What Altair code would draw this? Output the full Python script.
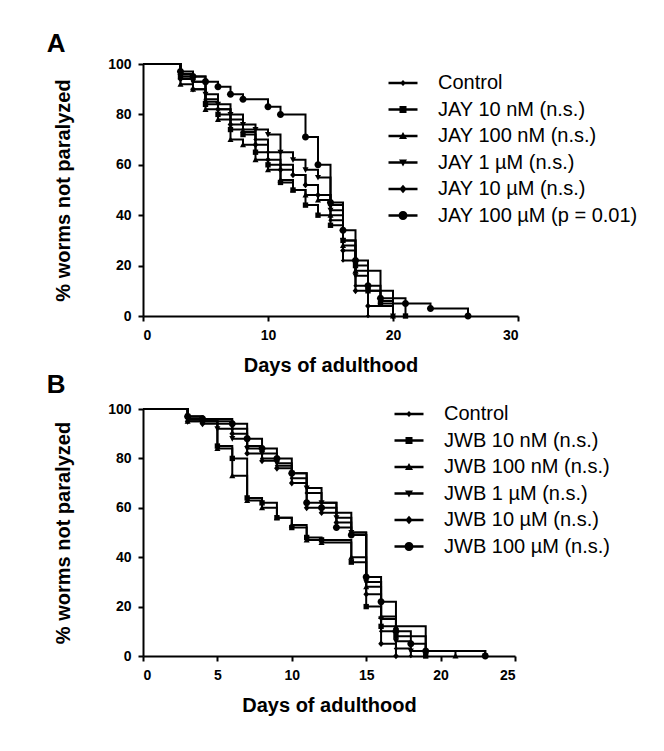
import altair as alt
import pandas as pd

# ---------------- Panel A data (JAY) ----------------
a_labels = ["Control", "JAY 10 nM (n.s.)", "JAY 100 nM (n.s.)", "JAY 1 µM (n.s.)",
            "JAY 10 µM (n.s.)", "JAY 100 µM (p = 0.01)"]
a_days = [
    [3, 4, 5, 6, 7, 8, 9, 10, 11, 12, 13, 14, 15, 16, 17, 18],
    [3, 5, 6, 7, 8, 9, 10, 11, 12, 13, 14, 15, 16, 17, 18, 19, 21],
    [3, 4, 5, 6, 7, 8, 9, 10, 11, 12, 13, 14, 15, 16, 17, 19, 20],
    [3, 4, 5, 6, 7, 8, 9, 10, 11, 12, 13, 14, 15, 16, 17, 18, 20],
    [3, 4, 5, 6, 7, 8, 9, 10, 11, 12, 13, 14, 15, 16, 17, 18, 20],
    [3, 4, 5, 6, 7, 8, 10, 11, 13, 14, 15, 16, 17, 18, 19, 21, 23, 26],
]
a_pct = [
    [96, 93, 86, 82, 78, 74, 70, 65, 60, 56, 52, 48, 38, 22, 12, 0],
    [95, 84, 80, 74, 72, 65, 60, 53, 50, 44, 40, 36, 30, 20, 10, 5, 0],
    [92, 90, 82, 78, 70, 68, 62, 58, 54, 50, 48, 46, 40, 28, 18, 6, 0],
    [95, 93, 88, 84, 80, 76, 74, 72, 65, 62, 58, 55, 42, 30, 16, 10, 0],
    [94, 90, 85, 82, 76, 73, 68, 62, 58, 56, 52, 48, 44, 26, 10, 4, 0],
    [97, 95, 93, 91, 88, 86, 83, 80, 71, 60, 45, 34, 22, 12, 7, 5, 3, 0],
]

# ---------------- Panel B data (JWB) ----------------
b_labels = ["Control", "JWB 10 nM (n.s.)", "JWB 100 nM (n.s.)", "JWB 1 µM (n.s.)",
            "JWB 10 µM (n.s.)", "JWB 100 µM (n.s.)"]
b_days = [
    [3, 4, 6, 7, 8, 9, 10, 11, 12, 13, 14, 15, 16, 17, 18],
    [3, 4, 5, 6, 7, 8, 9, 10, 11, 12, 14, 15, 16, 17, 19],
    [3, 5, 6, 7, 8, 9, 10, 11, 12, 14, 15, 16, 17, 19, 21],
    [3, 5, 6, 7, 8, 9, 10, 11, 12, 13, 14, 15, 16, 17, 18, 23],
    [3, 4, 6, 7, 8, 9, 10, 11, 12, 13, 14, 15, 16, 17],
    [3, 4, 6, 7, 8, 9, 10, 11, 12, 13, 14, 15, 16, 17, 18, 19, 23],
]
b_pct = [
    [97, 95, 92, 85, 80, 77, 72, 66, 62, 58, 50, 30, 10, 3, 0],
    [97, 95, 85, 80, 64, 62, 56, 52, 48, 47, 38, 20, 12, 8, 0],
    [95, 84, 73, 63, 60, 56, 53, 47, 46, 40, 28, 16, 12, 2, 0],
    [96, 92, 88, 84, 82, 78, 74, 68, 62, 56, 50, 30, 15, 6, 2, 0],
    [95, 94, 90, 82, 79, 76, 70, 60, 58, 54, 49, 25, 5, 0],
    [97, 96, 94, 88, 84, 80, 74, 62, 60, 52, 49, 32, 22, 10, 5, 2, 0],
]

# marker paths (unit space [-1,1]); all drawn clockwise
m_paths = [
    "M0,-0.65L0.65,0L0,0.65L-0.65,0Z",                      # control: small diamond
    "M-0.8,-0.8H0.8V0.8H-0.8Z",                             # square
    "M0,-0.95L0.9,0.75H-0.9Z",                              # triangle up
    "M0,0.95L-0.9,-0.75H0.9Z",                              # triangle down
    "M0,-1L0.85,0L0,1L-0.85,0Z",                            # diamond
    "M-1.05,0A1.05,1.05,0,1,1,1.05,0A1.05,1.05,0,1,1,-1.05,0Z",  # circle
]
bar = "M-2.9,-0.25H2.9V0.25H-2.9Z "
leg_paths = [
    bar + "M0,-0.6L0.6,0L0,0.6L-0.6,0Z",
    bar + "M-0.7,-0.7H0.7V0.7H-0.7Z",
    bar + "M0,-0.8L0.8,0.6H-0.8Z",
    bar + "M0,0.8L-0.8,-0.6H0.8Z",
    bar + "M0,-0.85L0.75,0L0,0.85L-0.75,0Z",
    bar + "M-0.9,0A0.9,0.9,0,1,1,0.9,0A0.9,0.9,0,1,1,-0.9,0Z",
]

FONT = "Liberation Sans"


def build(labels, days, pct):
    rows = []
    for i, lab in enumerate(labels):
        rows.append({"series": lab, "day": 0, "pct": 100, "order": 0, "mark": False})
        for j, (d, p) in enumerate(zip(days[i], pct[i])):
            rows.append({"series": lab, "day": d, "pct": p, "order": j + 1, "mark": True})
    return pd.DataFrame(rows)


def panel(labels, days, pct, xmax, xstep, width, height, letter, legx, legy, toff):
    df = build(labels, days, pct)
    base = alt.Chart(df)
    xenc = alt.X("day:Q", title="Days of adulthood",
                 scale=alt.Scale(domain=[0, xmax], nice=False),
                 axis=alt.Axis(values=list(range(0, xmax + 1, xstep)), titlePadding=13))
    yenc = alt.Y("pct:Q", title="% worms not paralyzed",
                 scale=alt.Scale(domain=[0, 100], nice=False),
                 axis=alt.Axis(values=[0, 20, 40, 60, 80, 100], titlePadding=34))
    lines = base.mark_line(interpolate="step-after", color="black", strokeWidth=2).encode(
        x=xenc, y=yenc, detail="series:N", order="order:Q")
    pts = base.transform_filter("datum.mark").mark_point(
        filled=True, color="black", opacity=1, size=45).encode(
        x=xenc, y=yenc,
        shape=alt.Shape("series:N", scale=alt.Scale(domain=labels, range=m_paths), legend=None))
    leg = base.transform_filter("datum.mark").mark_point(
        filled=True, color="black", opacity=0, size=45).encode(
        x=xenc, y=yenc,
        shape=alt.Shape("series:N", scale=alt.Scale(domain=labels, range=leg_paths),
                        legend=alt.Legend(title=None, orient="none", legendX=legx, legendY=legy,
                                          symbolSize=100, labelOffset=25, labelLimit=0,
                                          labelFontSize=20, labelFont=FONT,
                                          labelColor="black", rowPadding=6.5,
                                          symbolFillColor="black", symbolStrokeWidth=0,
                                          symbolOpacity=1)))
    return alt.layer(lines, pts, leg).resolve_scale(shape="independent").properties(
        width=width, height=height,
        title=alt.TitleParams(letter, anchor="start", fontSize=26, fontWeight="bold",
                              font=FONT, color="black", dx=-7, offset=toff))


chartA = panel(a_labels, a_days, a_pct, 30, 10, 375, 252, "A", 250, 9, 0)
chartB = panel(b_labels, b_days, b_pct, 25, 5, 372, 247, "B", 256, -5, 4)

chart = alt.vconcat(chartA, chartB, spacing=-3).resolve_scale(shape="independent").resolve_legend(
    shape="independent").properties(
    background="white", padding={"left": 38, "top": 23, "right": 5, "bottom": 5}
).configure_view(stroke=None).configure_axis(
    grid=False, domainColor="black", domainWidth=2, tickColor="black", tickWidth=2,
    tickSize=5, labelFont=FONT, labelFontSize=14, labelFontWeight="bold", labelColor="black",
    titleFont=FONT, titleFontSize=20, titleFontWeight="bold", titleColor="black",
    labelPadding=7, titlePadding=8)

chart.save("out.html", embed_options={"renderer": "svg", "actions": False})
